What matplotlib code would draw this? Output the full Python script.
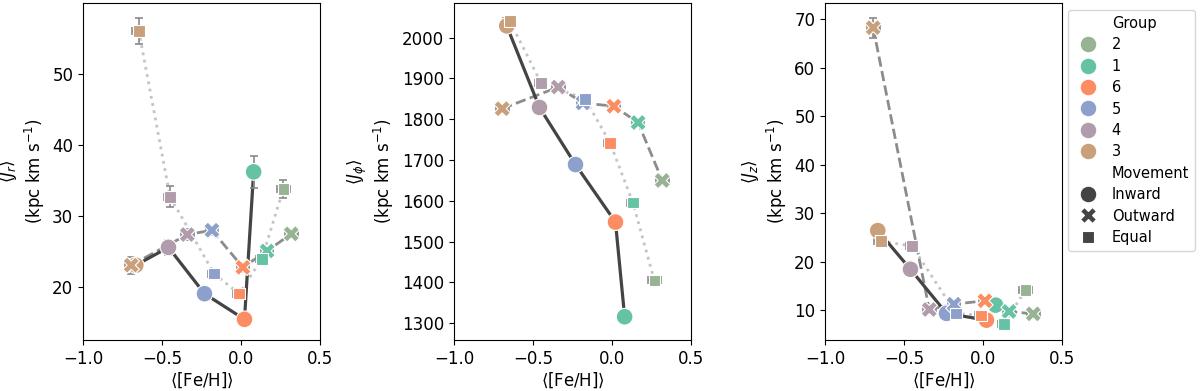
import matplotlib
matplotlib.use("Agg")
import matplotlib.pyplot as plt
from matplotlib.lines import Line2D

# ---- data (groups in line order) ----
groups_in = ["3", "4", "5", "6", "1"]
groups_all = ["3", "4", "5", "6", "1", "2"]
legend_groups = ["2", "1", "6", "5", "4", "3"]

group_colors = {
    "2": "#97b393",
    "1": "#66c2a5",
    "6": "#fc8d62",
    "5": "#8da0cb",
    "4": "#b09cab",
    "3": "#c9a07b",
}

feh_inward = [-0.666, -0.459, -0.231, 0.022, 0.080]
feh_outward = [-0.695, -0.340, -0.184, 0.012, 0.165, 0.318]
feh_equal = [-0.647, -0.449, -0.170, -0.012, 0.132, 0.268]
feh_err_inward = [0.04, 0.04, 0.04, 0.04, 0.04]
feh_err_outward = [0.04, 0.04, 0.04, 0.04, 0.04, 0.04]
feh_err_equal = [0.04, 0.04, 0.04, 0.04, 0.04, 0.04]

jr_inward = [23.1, 25.6, 19.1, 15.5, 36.2]
jr_outward = [23.1, 27.4, 28.0, 22.8, 25.1, 27.5]
jr_equal = [56.0, 32.7, 21.9, 19.1, 24.0, 33.8]
jr_err_inward = [1.0, 1.0, 0.5, 0.5, 2.2]
jr_err_outward = [1.2, 0.8, 0.6, 0.6, 0.6, 0.6]
jr_err_equal = [1.8, 1.5, 0.6, 0.6, 0.6, 1.2]

jphi_inward = [2029, 1829, 1689, 1548, 1316]
jphi_outward = [1826, 1879, 1840, 1832, 1792, 1650]
jphi_equal = [2041, 1889, 1850, 1742, 1596, 1405]
jphi_err_inward = [10, 8, 8, 8, 10]
jphi_err_outward = [8, 8, 8, 8, 8, 8]
jphi_err_equal = [10, 8, 8, 8, 8, 8]

jz_inward = [26.4, 18.4, 9.3, 7.9, 11.0]
jz_outward = [68.3, 10.1, 11.2, 11.9, 9.7, 9.2]
jz_equal = [24.2, 23.2, 9.3, 8.9, 7.1, 14.1]
jz_err_inward = [0.8, 0.8, 0.4, 0.4, 0.5]
jz_err_outward = [2.1, 0.5, 0.5, 0.5, 0.4, 0.4]
jz_err_equal = [0.8, 1.0, 0.4, 0.4, 0.4, 0.5]

panels = [
    dict(inward=jr_inward, outward=jr_outward, equal=jr_equal,
         ein=jr_err_inward, eout=jr_err_outward, eeq=jr_err_equal,
         ylabel="$\\langle J_r\\rangle$\n(kpc km s$^{-1}$)",
         ylim=(12.6, 59.9), yticks=[20, 30, 40, 50]),
    dict(inward=jphi_inward, outward=jphi_outward, equal=jphi_equal,
         ein=jphi_err_inward, eout=jphi_err_outward, eeq=jphi_err_equal,
         ylabel="$\\langle J_\\phi\\rangle$\n(kpc km s$^{-1}$)",
         ylim=(1259, 2085), yticks=[1300, 1400, 1500, 1600, 1700, 1800, 1900, 2000]),
    dict(inward=jz_inward, outward=jz_outward, equal=jz_equal,
         ein=jz_err_inward, eout=jz_err_outward, eeq=jz_err_equal,
         ylabel="$\\langle J_z\\rangle$\n(kpc km s$^{-1}$)",
         ylim=(3.8, 73.4), yticks=[10, 20, 30, 40, 50, 60, 70]),
]

W, H = 1200, 391
fig = plt.figure(figsize=(W / 100, H / 100), dpi=100)
lefts = [83, 454, 825]
ax_w = 237
ax_top, ax_bot = 3, 340

ERR_COLOR = "#8a8a8a"
styles = {
    "inward": dict(ls="-", color="#444444", lw=2.3, marker="o", s=145, lz=4, mz=6),
    "outward": dict(ls="--", color="#8c8c8c", lw=2.0, marker="X", s=140, lz=3, mz=7),
    "equal": dict(ls=":", color="#c4c4c4", lw=2.0, marker="s", s=68, lz=2, mz=8),
}

for left, p in zip(lefts, panels):
    ax = fig.add_axes([left / W, 1 - ax_bot / H, ax_w / W, (ax_bot - ax_top) / H])
    series = [
        ("equal", feh_equal, p["equal"], feh_err_equal, p["eeq"], groups_all),
        ("outward", feh_outward, p["outward"], feh_err_outward, p["eout"], groups_all),
        ("inward", feh_inward, p["inward"], feh_err_inward, p["ein"], groups_in),
    ]
    for key, xs, ys, xe, ye, gs in series:
        st = styles[key]
        ax.plot(xs, ys, ls=st["ls"], color=st["color"], lw=st["lw"], zorder=st["lz"])
    for key, xs, ys, xe, ye, gs in series:
        ax.errorbar(xs, ys, xerr=xe, yerr=ye, fmt="none", ecolor=ERR_COLOR,
                    elinewidth=1.2, capsize=2.6, capthick=1.2, zorder=5)
    for key, xs, ys, xe, ye, gs in series:
        st = styles[key]
        ax.scatter(xs, ys, s=st["s"], marker=st["marker"],
                   c=[group_colors[g] for g in gs], edgecolors="white",
                   linewidths=0.8, zorder=st["mz"])
    ax.set_xlim(-1.0, 0.5)
    ax.set_xticks([-1.0, -0.5, 0.0, 0.5])
    ax.set_ylim(*p["ylim"])
    ax.set_yticks(p["yticks"])
    ax.tick_params(labelsize=12)
    ax.set_xlabel("$\\langle$[Fe/H]$\\rangle$", fontsize=12, labelpad=2)
    ax.set_ylabel(p["ylabel"], fontsize=12, labelpad=4)

# ---- legend ----
handles, labels = [], []
blank = Line2D([], [], ls="", marker=None)
handles.append(blank); labels.append("Group")
for g in legend_groups:
    handles.append(Line2D([], [], ls="", marker="o", markersize=12,
                          markerfacecolor=group_colors[g], markeredgecolor="white",
                          markeredgewidth=0.8))
    labels.append(g)
handles.append(blank); labels.append("Movement")
for key, name in [("inward", "Inward"), ("outward", "Outward"), ("equal", "Equal")]:
    ms = {"inward": 12, "outward": 11, "equal": 8.5}[key]
    handles.append(Line2D([], [], ls="", marker=styles[key]["marker"], markersize=ms,
                          markerfacecolor="#444444", markeredgecolor="white",
                          markeredgewidth=0.8))
    labels.append(name)

fig.legend(handles, labels, loc="upper left",
           bbox_to_anchor=(1068 / W, 1 - 10 / H), borderaxespad=0,
           fontsize=10.5, labelspacing=0.44, handletextpad=0.6,
           frameon=True, edgecolor="#cccccc", fancybox=True)

fig.savefig("out.png", dpi=100)
